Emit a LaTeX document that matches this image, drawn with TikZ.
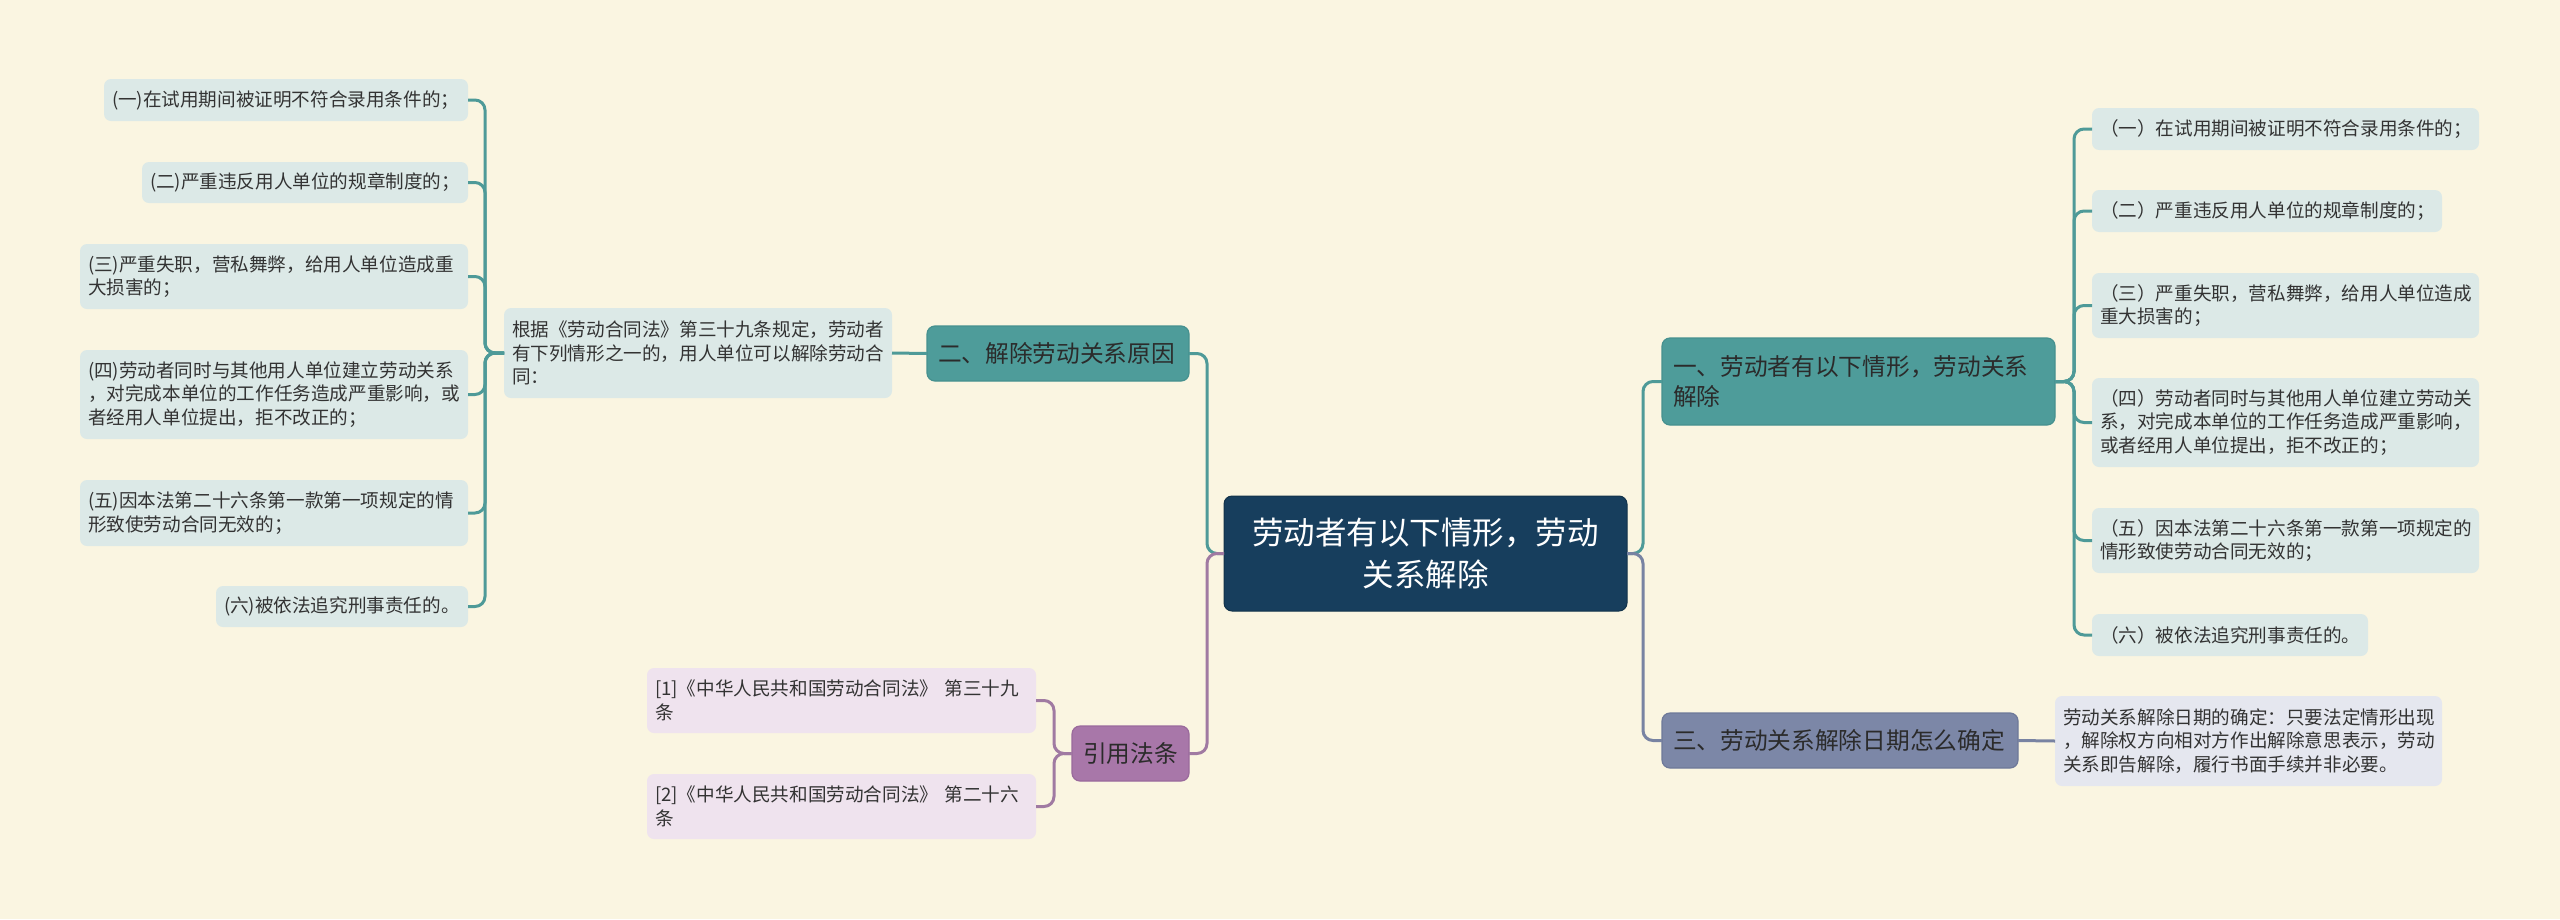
\documentclass[tikz,border=0pt]{standalone}
\usepackage{fontspec}
\setmainfont{Noto Sans CJK SC}
\definecolor{bgc}{HTML}{FAF5E1}
\definecolor{leafteal}{HTML}{DCE9E7}
\definecolor{tealnode}{HTML}{4E9C9A}
\definecolor{tealborder}{HTML}{46918F}
\definecolor{tealline}{HTML}{4E9A98}
\definecolor{navy}{HTML}{173E5D}
\definecolor{purplenode}{HTML}{A877A9}
\definecolor{purpleborder}{HTML}{9A6A9C}
\definecolor{purpleline}{HTML}{A07AA2}
\definecolor{purpleleaf}{HTML}{EFE3EE}
\definecolor{slatenode}{HTML}{7C87A7}
\definecolor{slateborder}{HTML}{6E7999}
\definecolor{slateline}{HTML}{7883A2}
\definecolor{slateleaf}{HTML}{E5E7EF}
\definecolor{leaftext}{HTML}{333333}
\definecolor{branchtext}{HTML}{2B2B2B}
\newcommand{\myleaffont}{\fontsize{18.6}{23.5}\selectfont}
\newcommand{\mybranchfont}{\fontsize{23.7}{30}\selectfont}
\newcommand{\mycenterfont}{\fontsize{31.5}{42}\selectfont}
\begin{document}
\begin{tikzpicture}[x=1pt,y=-1pt,
  base/.style={rectangle, rounded corners=7pt, outer sep=0pt, inner ysep=0pt, align=left},
  leafT/.style={base, fill=leafteal, text=leaftext, font=\myleaffont, inner xsep=8pt},
  leafP/.style={base, fill=purpleleaf, text=leaftext, font=\myleaffont, inner xsep=8pt},
  leafS/.style={base, fill=slateleaf, text=leaftext, font=\myleaffont, inner xsep=8pt},
  brT/.style={base, rounded corners=8pt, fill=tealnode, draw=tealborder, line width=1.2pt, text=branchtext, font=\mybranchfont, inner xsep=11pt},
  brP/.style={base, rounded corners=8pt, fill=purplenode, draw=purpleborder, line width=1.2pt, text=branchtext, font=\mybranchfont, inner xsep=11pt, align=center},
  brS/.style={base, rounded corners=8pt, fill=slatenode, draw=slateborder, line width=1.2pt, text=branchtext, font=\mybranchfont, inner xsep=11pt},
  rootnode/.style={base, rounded corners=8pt, fill=navy, draw=navy!80!black, line width=1pt, text=white, font=\mycenterfont, inner xsep=11.5pt, align=center},
  lnT/.style={draw=tealline, line width=3pt, rounded corners=10pt},
  lnP/.style={draw=purpleline, line width=3pt, rounded corners=10pt},
  lnS/.style={draw=slateline, line width=3pt, rounded corners=10pt}
]
\fill[bgc] (0,0) rectangle (2560,919);
\useasboundingbox (0,0) rectangle (2560,919);

% ---------- nodes ----------
\node[rootnode, minimum width=403pt, text width=380pt, minimum height=115pt] (C) at (1425.5,553.5) {劳动者有以下情形，劳动\\关系解除};

% left teal branch
\node[brT, minimum width=262pt, text width=240pt, minimum height=55pt] (B2) at (1058,353.5) {二、解除劳动关系原因};
\node[leafT, minimum width=388pt, text width=372pt, minimum height=90pt] (D) at (698,353) {根据《劳动合同法》第三十九条规定，劳动者\\有下列情形之一的，用人单位可以解除劳动合\\同：};
\node[leafT, minimum width=364pt, text width=348pt, minimum height=42pt] (L1) at (286,100) {(一)在试用期间被证明不符合录用条件的；};
\node[leafT, minimum width=326pt, text width=310pt, minimum height=41pt] (L2) at (305,182.5) {(二)严重违反用人单位的规章制度的；};
\node[leafT, minimum width=388pt, text width=372pt, minimum height=65pt] (L3) at (274,276.5) {(三)严重失职，营私舞弊，给用人单位造成重\\大损害的；};
\node[leafT, minimum width=388pt, text width=372pt, minimum height=89pt] (L4) at (274,394.5) {(四)劳动者同时与其他用人单位建立劳动关系\\，对完成本单位的工作任务造成严重影响，或\\者经用人单位提出，拒不改正的；};
\node[leafT, minimum width=388pt, text width=372pt, minimum height=66pt] (L5) at (274,513) {(五)因本法第二十六条第一款第一项规定的情\\形致使劳动合同无效的；};
\node[leafT, minimum width=252pt, text width=236pt, minimum height=41pt] (L6) at (342,606.5) {(六)被依法追究刑事责任的。};

% left purple branch
\node[brP, minimum width=117pt, text width=95pt, minimum height=55pt] (B4) at (1130.5,753.5) {引用法条};
\node[leafP, minimum width=389pt, text width=373pt, minimum height=65pt] (P1) at (841.5,700.5) {[1]《中华人民共和国劳动合同法》~第三十九\\条};
\node[leafP, minimum width=389pt, text width=373pt, minimum height=65pt] (P2) at (841.5,806.5) {[2]《中华人民共和国劳动合同法》~第二十六\\条};

% right teal branch
\node[brT, minimum width=393pt, text width=371pt, minimum height=87pt] (B1) at (1858.5,381.5) {一、劳动者有以下情形，劳动关系\\解除};
\node[leafT, minimum width=387pt, text width=371pt, minimum height=42pt] (R1) at (2285.5,129) {（一）在试用期间被证明不符合录用条件的；};
\node[leafT, minimum width=350pt, text width=334pt, minimum height=42pt] (R2) at (2267,211) {（二）严重违反用人单位的规章制度的；};
\node[leafT, minimum width=387pt, text width=371pt, minimum height=65pt] (R3) at (2285.5,305.5) {（三）严重失职，营私舞弊，给用人单位造成\\重大损害的；};
\node[leafT, minimum width=387pt, text width=371pt, minimum height=89pt] (R4) at (2285.5,422.5) {（四）劳动者同时与其他用人单位建立劳动关\\系，对完成本单位的工作任务造成严重影响，\\或者经用人单位提出，拒不改正的；};
\node[leafT, minimum width=387pt, text width=371pt, minimum height=65pt] (R5) at (2285.5,540.5) {（五）因本法第二十六条第一款第一项规定的\\情形致使劳动合同无效的；};
\node[leafT, minimum width=276pt, text width=260pt, minimum height=42pt] (R6) at (2230,635) {（六）被依法追究刑事责任的。};

% right slate branch
\node[brS, minimum width=356pt, text width=334pt, minimum height=55pt] (B3) at (1840,740.5) {三、劳动关系解除日期怎么确定};
\node[leafS, minimum width=387pt, text width=371pt, minimum height=90pt] (E) at (2248.5,741) {劳动关系解除日期的确定：只要法定情形出现\\，解除权方向相对方作出解除意思表示，劳动\\关系即告解除，履行书面手续并非必要。};

% ---------- connectors ----------
\path[lnT] (C.west) -- ++(-17,0) |- (B2.east);
\path[lnP] (C.west) -- ++(-17,0) |- (B4.east);
\path[lnT] (C.east) -- ++(16,0) |- (B1.west);
\path[lnS] (C.east) -- ++(16,0) |- (B3.west);

\path[lnT] (B2.west) -- (D.east);
\foreach \n in {L1,L2,L3,L4,L5,L6}{
  \path[lnT] (D.west) -- ++(-19,0) |- (\n.east);
}
\foreach \n in {P1,P2}{
  \path[lnP] (B4.west) -- ++(-18,0) |- (\n.east);
}
\foreach \n in {R1,R2,R3,R4,R5,R6}{
  \path[lnT] (B1.east) -- ++(19,0) |- (\n.west);
}
\path[lnS] (B3.east) -- (E.west);
\end{tikzpicture}
\end{document}
